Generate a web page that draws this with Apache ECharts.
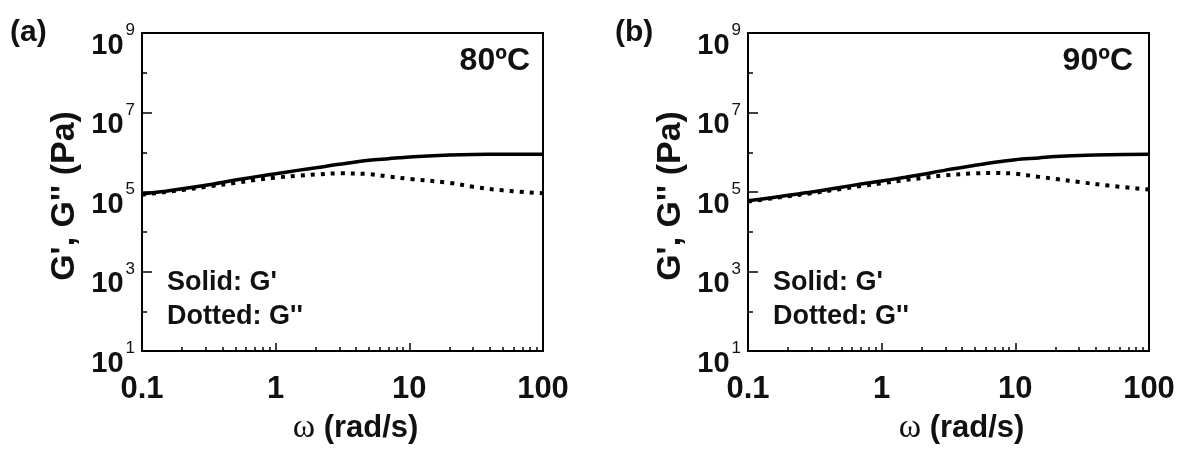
<!DOCTYPE html>
<html>
<head>
<meta charset="utf-8">
<script src="https://cdn.jsdelivr.net/npm/echarts@6/dist/echarts.min.js"></script>
<style>
html,body{margin:0;padding:0;background:#fff;}
#chart{width:1184px;height:450px;}
</style>
</head>
<body>
<div id="chart"></div>
<script>
// ---- data ----
const omega80 = [0.1, 0.15, 0.2, 0.3, 0.5, 0.7, 1, 1.5, 2, 3, 5, 7, 10, 20, 30, 50, 100];
const gPrime80 = [8.9e4, 1.05e5, 1.2e5, 1.48e5, 2.0e5, 2.4e5, 2.88e5, 3.55e5, 4.07e5, 5.0e5, 6.3e5, 6.9e5, 7.6e5, 8.5e5, 8.8e5, 8.9e5, 8.9e5];
const gDouble80 = [8.5e4, 1.0e5, 1.12e5, 1.35e5, 1.7e5, 2.0e5, 2.3e5, 2.57e5, 2.75e5, 2.95e5, 2.82e5, 2.45e5, 2.14e5, 1.7e5, 1.35e5, 1.1e5, 9.3e4];

const omega90 = [0.1, 0.15, 0.2, 0.3, 0.5, 0.7, 1, 1.5, 2, 3, 5, 7, 10, 15, 20, 30, 50, 100];
const gPrime90 = [6.0e4, 7.2e4, 8.3e4, 1.0e5, 1.32e5, 1.58e5, 1.9e5, 2.34e5, 2.75e5, 3.55e5, 4.7e5, 5.6e5, 6.5e5, 7.2e5, 7.8e5, 8.3e5, 8.7e5, 8.9e5];
const gDouble90 = [5.75e4, 6.9e4, 7.8e4, 9.3e4, 1.2e5, 1.41e5, 1.66e5, 2.0e5, 2.24e5, 2.63e5, 2.95e5, 3.0e5, 2.88e5, 2.4e5, 2.14e5, 1.78e5, 1.45e5, 1.15e5];

const xTickValues = [0.1, 1, 10, 100];
const xTickLabels = ['0.1', '1', '10', '100'];
const xMinorValues = [0.2,0.3,0.4,0.5,0.6,0.7,0.8,0.9, 2,3,4,5,6,7,8,9, 20,30,40,50,60,70,80,90];
const yMajorExponents = [1, 3, 5, 7, 9];
const yMinorExponents = [2, 4, 6, 8];

const panelLabels = ['(a)', '(b)'];
const tempLabels = ['80ºC', '90ºC'];
const legendLines = ["Solid: G'", "Dotted: G''"];
const xTitle = '{w|ω} (rad/s)';
const yTitle = "G', G'' (Pa)";

// ---- chart ----
const FONT = "'Liberation Sans', Arial, sans-serif";
const lg = Math.log10;
const pairs = (xs, ys) => xs.map((x, i) => [lg(x), lg(ys[i])]);

const grids = [
  {left: 142, top: 33, width: 401, height: 321},
  {left: 748, top: 33, width: 401, height: 321}
];

const xAxes = [], yAxes = [], series = [], graphics = [];
grids.forEach((g, gi) => {
  xAxes.push({
    gridIndex: gi, type: 'value', min: -1, max: 2, interval: 1,
    axisLine: {onZero: false, lineStyle: {color: '#000', width: 2}},
    axisTick: {inside: true, length: 8, lineStyle: {color: '#000', width: 1.5}},
    axisLabel: {
      margin: 23, color: '#111', fontFamily: FONT, fontWeight: 'bold', fontSize: 31,
      formatter: v => xTickLabels[xTickValues.findIndex(t => Math.abs(lg(t) - v) < 1e-6)] || ''
    },
    splitLine: {show: false},
    name: xTitle, nameLocation: 'middle', nameGap: 60,
    nameTextStyle: {
      color: '#111', fontFamily: FONT, fontWeight: 'bold', fontSize: 31, padding: [0, 0, 0, 26],
      rich: {w: {fontFamily: "'Liberation Serif', 'Times New Roman', serif", fontWeight: 'normal', fontSize: 34, color: '#111'}}
    }
  });
  xAxes.push({
    gridIndex: gi, type: 'value', min: -1, max: 2, position: 'bottom',
    axisLine: {show: false, onZero: false},
    axisTick: {inside: true, length: 4, customValues: xMinorValues.map(lg), lineStyle: {color: '#000', width: 1.5}},
    axisLabel: {show: false},
    splitLine: {show: false}
  });
  yAxes.push({
    gridIndex: gi, type: 'value', min: 1, max: 9, interval: 1,
    axisLine: {onZero: false, lineStyle: {color: '#000', width: 2}},
    axisTick: {inside: true, length: 10, customValues: yMajorExponents, lineStyle: {color: '#000', width: 1.5}},
    axisLabel: {
      customValues: yMajorExponents, margin: 7, color: '#111', padding: [16, 0, 0, 0],
      fontFamily: FONT, fontWeight: 'bold',
      formatter: v => '{b|10}{s|' + v + '}',
      rich: {
        b: {fontFamily: FONT, fontWeight: 'bold', fontSize: 29, color: '#111', verticalAlign: 'bottom', lineHeight: 38, padding: [0, 2, 0, 0]},
        s: {fontFamily: FONT, fontWeight: 'normal', fontSize: 17, color: '#111', verticalAlign: 'top', lineHeight: 38}
      }
    },
    splitLine: {show: false},
    name: yTitle, nameLocation: 'middle', nameGap: 60, nameRotate: 90,
    nameTextStyle: {color: '#111', fontFamily: FONT, fontWeight: 'bold', fontSize: 34, padding: [0, 8, 0, 0]}
  });
  yAxes.push({
    gridIndex: gi, type: 'value', min: 1, max: 9, position: 'left',
    axisLine: {show: false, onZero: false},
    axisTick: {inside: true, length: 5, customValues: yMinorExponents, lineStyle: {color: '#000', width: 1.5}},
    axisLabel: {show: false},
    splitLine: {show: false}
  });
});

const sets = [
  [omega80, gPrime80, gDouble80],
  [omega90, gPrime90, gDouble90]
];
sets.forEach((s, gi) => {
  series.push({
    type: 'line', xAxisIndex: gi * 2, yAxisIndex: gi * 2, data: pairs(s[0], s[1]),
    showSymbol: false, smooth: 0.35, silent: true,
    lineStyle: {color: '#000', width: 3.5}
  });
  series.push({
    type: 'line', xAxisIndex: gi * 2, yAxisIndex: gi * 2, data: pairs(s[0], s[2]),
    showSymbol: false, smooth: 0.35, silent: true,
    lineStyle: {color: '#000', width: 4, type: [4, 6], cap: 'butt'}
  });
});

const panelX = [10, 615];
const tempRight = [530, 1133];
const legendX = [167, 773];
grids.forEach((g, gi) => {
  graphics.push({type: 'text', left: panelX[gi], top: 18,
    style: {text: panelLabels[gi], font: 'bold 30px ' + FONT, fill: '#111'}});
  graphics.push({type: 'text', x: tempRight[gi], y: 61,
    style: {text: tempLabels[gi], font: 'bold 32px ' + FONT, fill: '#111', align: 'right', verticalAlign: 'middle'}});
  legendLines.forEach((t, li) => {
    graphics.push({type: 'text', x: legendX[gi], y: 283 + li * 34,
      style: {text: t, font: 'bold 27px ' + FONT, fill: '#111', align: 'left', verticalAlign: 'middle'}});
  });
});

const chart = echarts.init(document.getElementById('chart'), null, {renderer: 'canvas'});
chart.setOption({
  animation: false,
  backgroundColor: '#fff',
  grid: grids.map(g => Object.assign({show: true, borderColor: '#000', borderWidth: 2, backgroundColor: 'transparent'}, g)),
  xAxis: xAxes,
  yAxis: yAxes,
  series: series,
  graphic: graphics
});
</script>
</body>
</html>
